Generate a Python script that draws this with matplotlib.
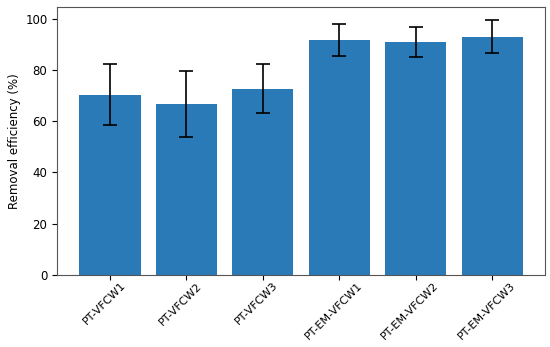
import matplotlib
matplotlib.use("Agg")
import matplotlib.pyplot as plt
import matplotlib.transforms as mtrans

systems = ["PT-VFCW1", "PT-VFCW2", "PT-VFCW3", "PT-EM-VFCW1", "PT-EM-VFCW2", "PT-EM-VFCW3"]
removal = [70.4, 66.8, 72.7, 91.8, 90.9, 93.1]
err = [12.0, 13.0, 9.5, 6.1, 5.9, 6.6]

plt.rcParams["font.size"] = 8.5

fig = plt.figure(figsize=(5.5, 3.47), dpi=100)
ax = fig.add_axes([0.104, 0.208, 0.887, 0.772])
ax.bar(systems, removal, yerr=err, capsize=4.7, color="#2a7ab8",
       error_kw=dict(elinewidth=1.2, capthick=1.2, ecolor="black"))
ax.set_ylabel("Removal efficiency (%)", labelpad=3)
ax.tick_params(axis="x", rotation=45, labelsize=8, pad=2)
shift = mtrans.ScaledTranslation(-0.06, 0.02, fig.dpi_scale_trans)
for lab in ax.get_xticklabels():
    lab.set_transform(lab.get_transform() + shift)
for s in ax.spines.values():
    s.set_color("#555555")
fig.savefig("out.png")
